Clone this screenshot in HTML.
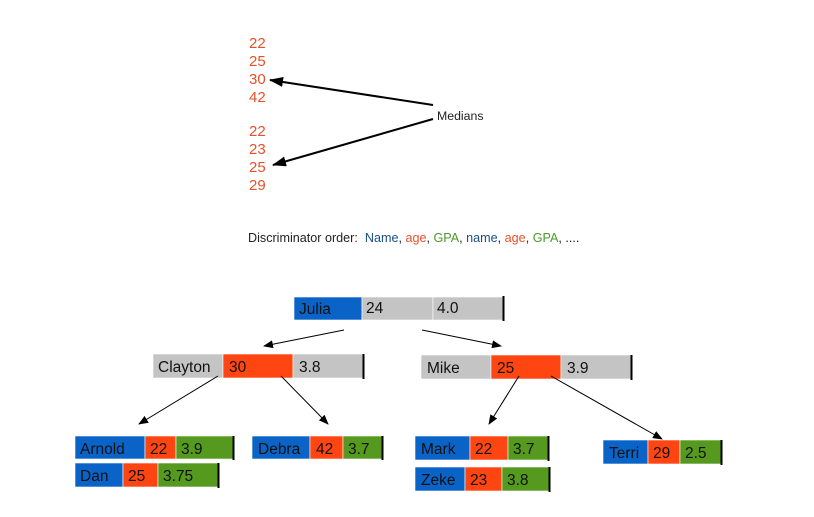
<!DOCTYPE html>
<html><head><meta charset="utf-8"><style>
html,body{margin:0;padding:0;background:#fff;}
svg{display:block;font-family:"Liberation Sans",sans-serif;}
</style></head><body>
<svg width="814" height="517" viewBox="0 0 814 517" xmlns="http://www.w3.org/2000/svg">
<defs>
<marker id="a" markerWidth="10" markerHeight="8" refX="9" refY="4" orient="auto" markerUnits="userSpaceOnUse"><path d="M0,0 L10,4 L0,8 z" fill="#000"/></marker>
<marker id="b" markerWidth="14" markerHeight="10" refX="13" refY="5" orient="auto" markerUnits="userSpaceOnUse"><path d="M0,0 L14,5 L0,10 z" fill="#000"/></marker>
</defs>
<g fill="#e8502a" font-size="15">
<text x="249" y="48">22</text><text x="249" y="66">25</text><text x="249" y="84">30</text><text x="249" y="102">42</text>
<text x="249" y="136">22</text><text x="249" y="154">23</text><text x="249" y="172">25</text><text x="249" y="190">29</text>
</g>
<line x1="433" y1="105" x2="270" y2="80" stroke="#000" stroke-width="2" marker-end="url(#b)"/>
<line x1="433" y1="119" x2="273" y2="165" stroke="#000" stroke-width="2" marker-end="url(#b)"/>
<text x="437" y="120" font-size="12.3" fill="#222">Medians</text>
<text x="248" y="242" font-size="12.6" fill="#222">Discriminator order:&#160; <tspan fill="#1a4f8a">Name</tspan>, <tspan fill="#e8502a">age</tspan>, <tspan fill="#4a9a2a">GPA</tspan>, <tspan fill="#1a4f8a">name</tspan>, <tspan fill="#e8502a">age</tspan>, <tspan fill="#4a9a2a">GPA</tspan>, ....</text>

<g stroke="#fff" stroke-width="0.6">
<rect x="294" y="297" width="68" height="23" fill="#0a64c8"/><rect x="362" y="297" width="71" height="23" fill="#c4c4c4"/><rect x="433" y="297" width="70" height="23" fill="#c4c4c4"/>
<rect x="153" y="354" width="70" height="24" fill="#c4c4c4"/><rect x="223" y="354" width="70" height="24" fill="#ff4511"/><rect x="293" y="354" width="70" height="24" fill="#c4c4c4"/>
<rect x="421" y="355" width="70" height="24" fill="#c4c4c4"/><rect x="491" y="355" width="70" height="24" fill="#ff4511"/><rect x="561" y="355" width="70" height="24" fill="#c4c4c4"/>
<rect x="75" y="436" width="70" height="23" fill="#0a64c8"/><rect x="145" y="436" width="31" height="23" fill="#ff4511"/><rect x="176" y="436" width="57" height="23" fill="#559a1e"/>
<rect x="75" y="463" width="48" height="24" fill="#0a64c8"/><rect x="123" y="463" width="35" height="24" fill="#ff4511"/><rect x="158" y="463" width="60" height="24" fill="#559a1e"/>
<rect x="252" y="436" width="58" height="23" fill="#0a64c8"/><rect x="310" y="436" width="33" height="23" fill="#ff4511"/><rect x="343" y="436" width="39" height="23" fill="#559a1e"/>
<rect x="415" y="436" width="55" height="24" fill="#0a64c8"/><rect x="470" y="436" width="38" height="24" fill="#ff4511"/><rect x="508" y="436" width="40" height="24" fill="#559a1e"/>
<rect x="415" y="467" width="50" height="24" fill="#0a64c8"/><rect x="465" y="467" width="37" height="24" fill="#ff4511"/><rect x="502" y="467" width="47" height="24" fill="#559a1e"/>
<rect x="603" y="440" width="45" height="24" fill="#0a64c8"/><rect x="648" y="440" width="32" height="24" fill="#ff4511"/><rect x="680" y="440" width="41" height="24" fill="#559a1e"/>
</g>
<g stroke="#000" stroke-width="2">
<line x1="503.5" y1="296" x2="503.5" y2="321"/><line x1="363.5" y1="354" x2="363.5" y2="379"/><line x1="631.5" y1="355" x2="631.5" y2="380"/>
<line x1="233.5" y1="436" x2="233.5" y2="460"/><line x1="218.5" y1="463" x2="218.5" y2="488"/><line x1="382.5" y1="436" x2="382.5" y2="460"/>
<line x1="548.5" y1="436" x2="548.5" y2="461"/><line x1="549.5" y1="467" x2="549.5" y2="492"/><line x1="721.5" y1="440" x2="721.5" y2="465"/>
</g>
<g font-size="15.5" fill="#111">
<text x="299" y="314">Julia</text><text x="366" y="313">24</text><text x="437" y="313">4.0</text>
<text x="158" y="372">Clayton</text><text x="229" y="372">30</text><text x="299" y="372">3.8</text>
<text x="427" y="373">Mike</text><text x="497" y="373">25</text><text x="567" y="373">3.9</text>
<text x="80" y="454">Arnold</text><text x="150" y="454">22</text><text x="181" y="454">3.9</text>
<text x="80" y="481">Dan</text><text x="128" y="481">25</text><text x="163" y="481">3.75</text>
<text x="258" y="454">Debra</text><text x="316" y="454">42</text><text x="348" y="454">3.7</text>
<text x="421" y="454">Mark</text><text x="475" y="454">22</text><text x="513" y="454">3.7</text>
<text x="421" y="485">Zeke</text><text x="470" y="485">23</text><text x="507" y="485">3.8</text>
<text x="609" y="458">Terri</text><text x="653" y="458">29</text><text x="685" y="458">2.5</text>
</g>
<g stroke="#000" stroke-width="1">
<line x1="344" y1="330" x2="264" y2="346" marker-end="url(#a)"/>
<line x1="422" y1="330" x2="501" y2="346" marker-end="url(#a)"/>
<line x1="218" y1="376" x2="139" y2="424" marker-end="url(#a)"/>
<line x1="281" y1="376" x2="328" y2="424" marker-end="url(#a)"/>
<line x1="519" y1="376" x2="489" y2="424" marker-end="url(#a)"/>
<line x1="551" y1="376" x2="662" y2="439" marker-end="url(#a)"/>
</g>
</svg>
</body></html>
